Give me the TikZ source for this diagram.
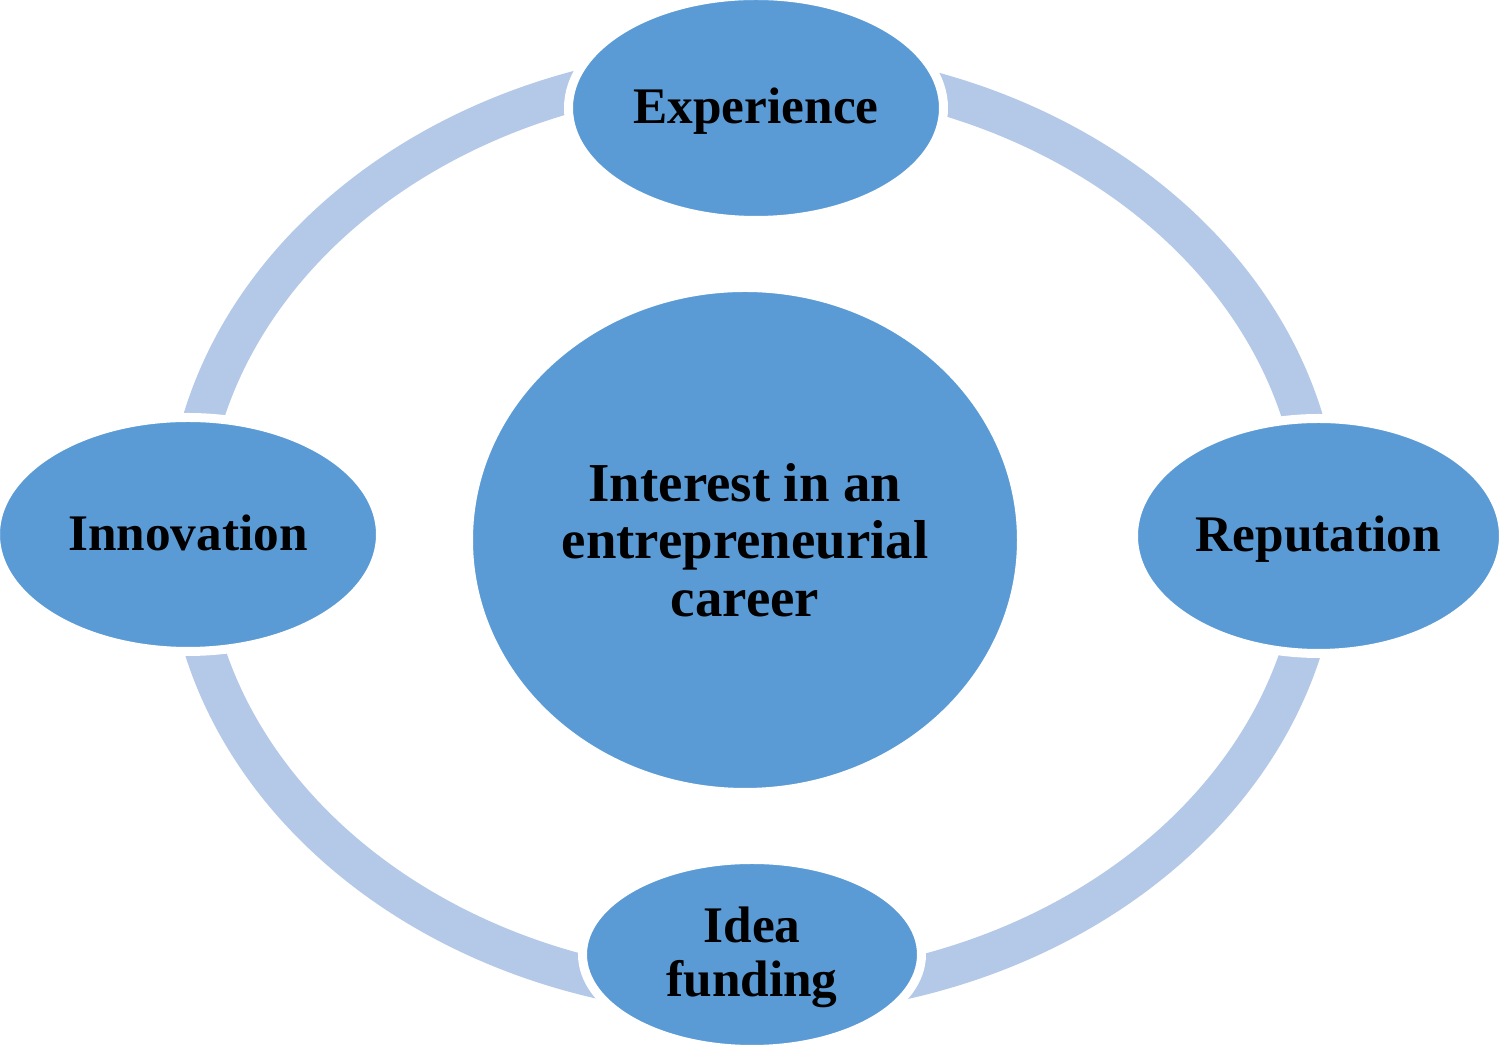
\documentclass[tikz,border=0pt]{standalone}
\usepackage{fontspec}
\setmainfont{Liberation Serif}
\usepackage{tikz}
\usepackage{xcolor}
\usetikzlibrary{shapes.geometric}

\begin{document}
\begin{tikzpicture}[x=1cm,y=1cm,
    blob/.style={ellipse, fill=blobc, draw=white, line width=0.09cm,
      inner sep=0pt, align=center, text=black, font=\bfseries\fontsize{14.6}{15.6}\selectfont},
    oneline/.style={text height=9.1pt, text depth=0pt},
    ringline/.style={draw=ringc, line width=0.40cm}]
    \definecolor{blobc}{RGB}{91,155,213}
    \definecolor{ringc}{RGB}{180,200,231}

    \useasboundingbox (0,0) rectangle (15,10.45);

    % the cycle ring behind the nodes
    \coordinate (hub) at (7.53,5.13);
    \draw[ringline] (hub) ellipse [x radius=5.67, y radius=4.64];

    \node[blob, minimum width=5.53cm, minimum height=5.05cm,
      font=\bfseries\fontsize{15.6}{16.4}\selectfont]
      (interest) at (7.45,5.05) {Interest in an\\entrepreneurial\\career};

    \node[blob, oneline, minimum width=3.75cm, minimum height=2.25cm] (experience) at (7.56,9.37) {Experience};
    \node[blob, oneline, minimum width=3.85cm, minimum height=2.34cm] (innovation) at (1.88,5.105) {Innovation};
    \node[blob, oneline, minimum width=3.70cm, minimum height=2.35cm] (reputation) at (13.185,5.09) {Reputation};
    \node[blob, text height=27.4pt, minimum width=3.39cm, minimum height=1.90cm] (funding) at (7.52,0.905) {Idea\\funding};
  \end{tikzpicture}
\end{document}
